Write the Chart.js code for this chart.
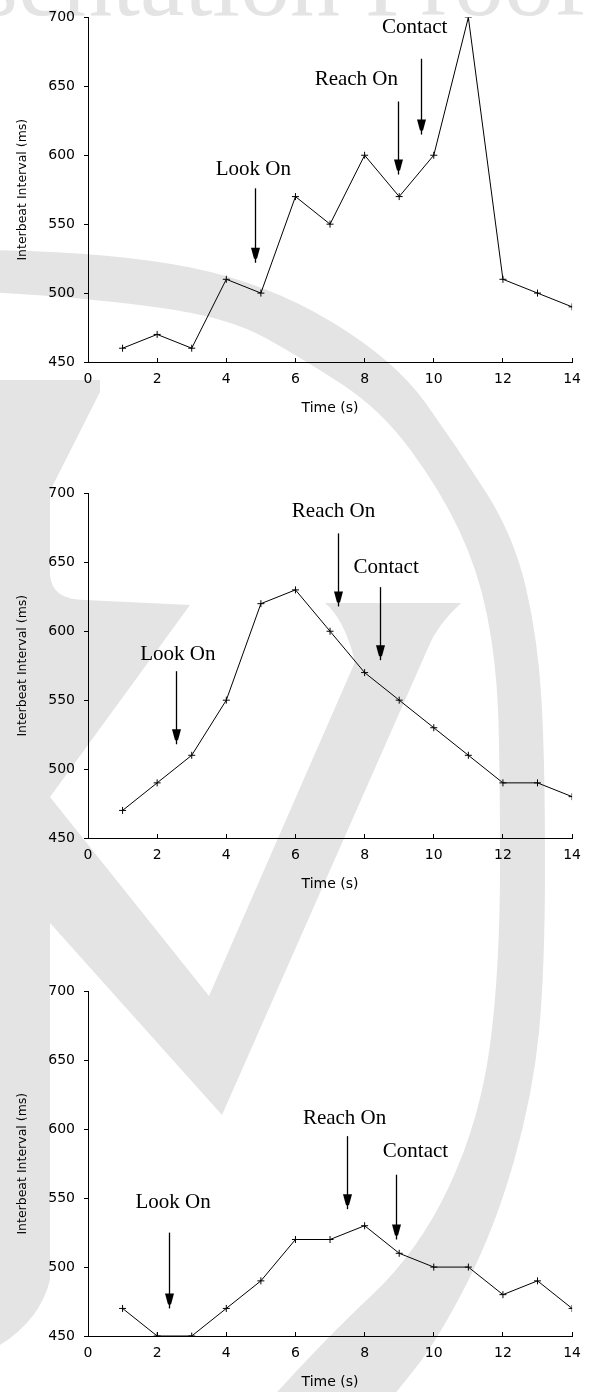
<!DOCTYPE html>
<html>
<head>
<meta charset="utf-8">
<script src="https://cdn.jsdelivr.net/npm/chart.js@4"></script>
<style>
  html, body { margin: 0; padding: 0; background: #fff; }
  body { width: 594px; height: 1392px; position: relative; overflow: hidden; }
  canvas { position: absolute; left: 0; }
  #mark { top: 0; }
  #chart1 { top: 0; }
  #chart2 { top: 476px; }
  #chart3 { top: 974px; }
</style>
</head>
<body>
<canvas id="mark" width="594" height="1392"></canvas>
<canvas id="chart1" width="594" height="440"></canvas>
<canvas id="chart2" width="594" height="440"></canvas>
<canvas id="chart3" width="594" height="418"></canvas>
<script>
// ===== Data =====
const times = [1, 2, 3, 4, 5, 6, 7, 8, 9, 10, 11, 12, 13, 14];
const ibiTop = [460, 470, 460, 510, 500, 570, 550, 600, 570, 600, 700, 510, 500, 490];
const ibiMiddle = [470, 490, 510, 550, 620, 630, 600, 570, 550, 530, 510, 490, 490, 480];
const ibiBottom = [470, 450, 450, 470, 490, 520, 520, 530, 510, 500, 500, 480, 490, 470];

const yMin = 450, yMax = 700, yStep = 50;
const xMin = 0, xMax = 14, xStep = 2;

// event markers: Look On, Reach On, Contact (axis units)
const eventNames = ["Look On", "Reach On", "Contact"];
const arrowTimeTop = [4.84, 8.97, 9.64];
const arrowFromTop = [576, 639, 670];
const arrowToTop = [522, 586, 615];
const labelTimeTop = [4.78, 7.76, 9.45];
const labelLevelTop = [590, 655, 693];

const arrowTimeMiddle = [2.55, 7.24, 8.45];
const arrowFromMiddle = [571, 671, 632];
const arrowToMiddle = [518, 618, 579];
const labelTimeMiddle = [2.6, 7.1, 8.62];
const labelLevelMiddle = [583, 687, 646];

const arrowTimeBottom = [2.35, 7.49, 8.9];
const arrowFromBottom = [525, 595, 567];
const arrowToBottom = [470, 542, 520];
const labelTimeBottom = [2.46, 7.42, 9.47];
const labelLevelBottom = [547, 608, 584];

// ===== Watermark (background decoration) =====
const mark = document.getElementById("mark").getContext("2d");
mark.fillStyle = "#e4e4e4";

function smoothPath(ctx, pts, first) {
  if (first) ctx.moveTo(pts[0][0], pts[0][1]);
  else ctx.lineTo(pts[0][0], pts[0][1]);
  for (let i = 1; i < pts.length - 1; i++) {
    const mx = (pts[i][0] + pts[i + 1][0]) / 2;
    const my = (pts[i][1] + pts[i + 1][1]) / 2;
    ctx.quadraticCurveTo(pts[i][0], pts[i][1], mx, my);
  }
  const last = pts[pts.length - 1];
  ctx.lineTo(last[0], last[1]);
}

const ringOuter = [[-10, 250], [114, 252], [267, 283], [395, 360], [457, 447], [514, 536], [538, 640],
  [545, 760], [545, 970], [533, 1094], [495, 1228], [438, 1340], [390, 1400]];
const ringInner = [[-10, 292], [95, 299], [228, 317], [305, 360], [381, 410], [440, 490], [478, 570],
  [496, 660], [500, 760], [500, 970], [480, 1120], [419, 1251], [324, 1340], [270, 1400]];
mark.beginPath();
smoothPath(mark, ringOuter, true);
smoothPath(mark, ringInner.slice().reverse(), false);
mark.closePath();
mark.fill();

mark.beginPath();
mark.moveTo(0, 380);
mark.lineTo(100, 380);
mark.lineTo(100, 392);
mark.lineTo(50, 491);
mark.lineTo(50, 575);
mark.quadraticCurveTo(52, 600, 85, 600);
mark.lineTo(190, 605);
mark.lineTo(50, 797);
mark.lineTo(209, 996);
mark.lineTo(355, 662);
mark.quadraticCurveTo(345, 620, 325, 603);
mark.lineTo(461, 603);
mark.quadraticCurveTo(437, 625, 428, 648);
mark.lineTo(222, 1115);
mark.lineTo(50, 923);
mark.lineTo(50, 1280);
mark.quadraticCurveTo(40, 1320, 0, 1345);
mark.closePath();
mark.fill();

mark.font = '100px "Liberation Serif"';
mark.textBaseline = "alphabetic";
const lead = "Presentation ";
mark.fillText(lead + "Proof", 365 - mark.measureText(lead).width, 15);

// ===== Event arrows plugin =====
const eventArrows = {
  id: "eventArrows",
  afterDatasetsDraw(chart, args, opts) {
    const { ctx, scales: { x, y } } = chart;
    ctx.save();
    ctx.fillStyle = "#000";
    ctx.strokeStyle = "#000";
    ctx.lineWidth = 1.3;
    ctx.font = '21px "Liberation Serif"';
    ctx.textAlign = "center";
    ctx.textBaseline = "middle";
    opts.times.forEach((t, i) => {
      const px = Math.round(x.getPixelForValue(t)) + 0.5;
      const top = y.getPixelForValue(opts.from[i]);
      const tip = y.getPixelForValue(opts.to[i]);
      ctx.beginPath();
      ctx.moveTo(px, top);
      ctx.lineTo(px, tip);
      ctx.stroke();
      ctx.beginPath();
      ctx.moveTo(px - 4.5, tip - 15);
      ctx.lineTo(px + 4.5, tip - 15);
      ctx.lineTo(px + 1.5, tip - 4);
      ctx.lineTo(px - 1.5, tip - 4);
      ctx.closePath();
      ctx.fill();
      ctx.fillText(eventNames[i], x.getPixelForValue(opts.labelTime[i]), y.getPixelForValue(opts.labelLevel[i]));
    });
    ctx.restore();
  }
};

// ===== Charts =====
function makeChart(id, values, arrows) {
  const canvas = document.getElementById(id);
  const plotBottom = 362;
  const xAxisHeight = 55;
  return new Chart(canvas.getContext("2d"), {
    type: "line",
    data: {
      datasets: [{
        data: times.map((t, i) => ({ x: t, y: values[i] })),
        borderColor: "#000",
        borderWidth: 1,
        pointStyle: "cross",
        pointRadius: 3.5,
        pointBorderWidth: 1,
        pointBorderColor: "#000",
        tension: 0,
        fill: false
      }]
    },
    plugins: [eventArrows],
    options: {
      responsive: false,
      animation: false,
      events: [],
      layout: { padding: { left: 0, right: 17, top: 16, bottom: canvas.height - plotBottom - xAxisHeight } },
      plugins: {
        legend: { display: false },
        tooltip: { enabled: false },
        eventArrows: arrows
      },
      scales: {
        x: {
          type: "linear",
          min: xMin,
          max: xMax,
          ticks: { stepSize: xStep, color: "#000", font: { family: "DejaVu Sans", size: 14 }, padding: 13, maxRotation: 0 },
          grid: { drawOnChartArea: false, tickLength: -4, color: "#000" },
          border: { color: "#000", width: 1 },
          title: { display: true, text: "Time (s)", color: "#000", font: { family: "DejaVu Sans", size: 14 }, padding: { top: 0, bottom: 0 } },
          afterFit(scale) { scale.height = xAxisHeight; }
        },
        y: {
          min: yMin,
          max: yMax,
          ticks: { stepSize: yStep, color: "#000", font: { family: "DejaVu Sans", size: 14 }, padding: 9 },
          grid: { drawOnChartArea: false, tickLength: 4, color: "#000" },
          border: { color: "#000", width: 1 },
          title: { display: true, text: "Interbeat Interval (ms)", color: "#000", font: { family: "DejaVu Sans", size: 12.5 }, padding: { top: 15, bottom: 0 } },
          afterFit(scale) { scale.width = 88; }
        }
      }
    }
  });
}

makeChart("chart1", ibiTop, { times: arrowTimeTop, from: arrowFromTop, to: arrowToTop, labelTime: labelTimeTop, labelLevel: labelLevelTop });
makeChart("chart2", ibiMiddle, { times: arrowTimeMiddle, from: arrowFromMiddle, to: arrowToMiddle, labelTime: labelTimeMiddle, labelLevel: labelLevelMiddle });
makeChart("chart3", ibiBottom, { times: arrowTimeBottom, from: arrowFromBottom, to: arrowToBottom, labelTime: labelTimeBottom, labelLevel: labelLevelBottom });
</script>
</body>
</html>
